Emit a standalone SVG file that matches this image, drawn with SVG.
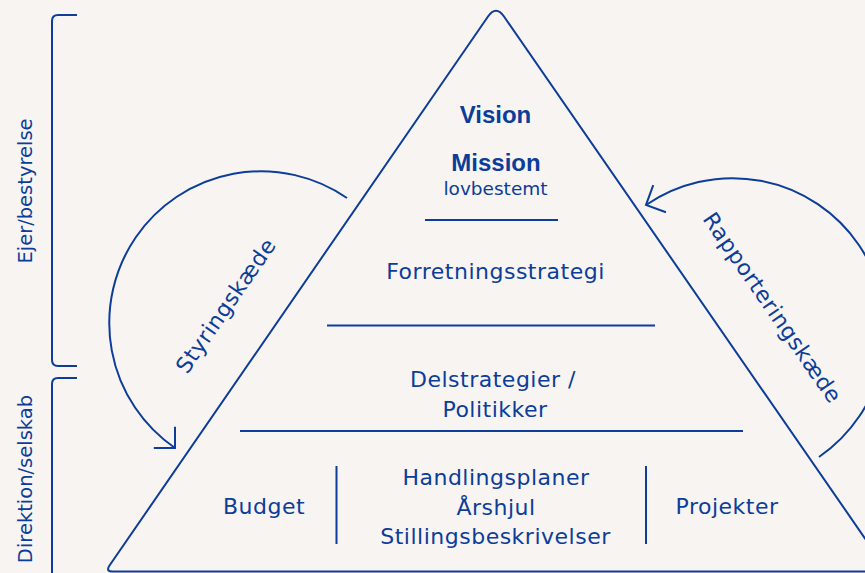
<svg xmlns="http://www.w3.org/2000/svg" width="865" height="573" viewBox="0 0 865 573">
  <style>
    .ln { fill: none; stroke: #0b3d99; stroke-width: 2; stroke-linecap: butt; stroke-linejoin: round; }
    .t { font-family: "DejaVu Sans", "Liberation Sans", sans-serif; font-size: 22px; fill: #0b3d99; text-anchor: middle; letter-spacing: 0.5px; }
    .b { font-family: "Liberation Sans", Arial, sans-serif; font-size: 24px; font-weight: bold; fill: #0b3d99; text-anchor: middle; }
    .s { font-size: 18.5px; letter-spacing: 0; }
    .side { font-size: 19.5px; letter-spacing: 0; }
  </style>
  <defs>
    <marker id="arrL" markerUnits="userSpaceOnUse" orient="45" markerWidth="32" markerHeight="32" refX="0" refY="0" overflow="visible">
      <path d="M-15,-15 L0,0 L-15,15" fill="none" stroke="#0b3d99" stroke-width="2"/>
    </marker>
    <marker id="arrR" markerUnits="userSpaceOnUse" orient="155" markerWidth="32" markerHeight="32" refX="0" refY="0" overflow="visible">
      <path d="M-15,-15 L0,0 L-15,15" fill="none" stroke="#0b3d99" stroke-width="2"/>
    </marker>
  </defs>
  <rect width="865" height="573" fill="#f8f4f2"/>

  <g id="brackets">
    <path class="ln" d="M77,15 H58 Q52,15 52,21 V360 Q52,366 58,366 H77"/>
    <path class="ln" d="M77,378 H58 Q52,378 52,384 V580"/>
    <text class="t side" transform="translate(31.5,191) rotate(-90)">Ejer/bestyrelse</text>
    <text class="t side" transform="translate(31.5,479) rotate(-90)">Direktion/selskab</text>
  </g>

  <g id="pyramid">
    <path class="ln" d="M900,571.5 H112.5 Q105.5,571.5 109.5,565.5 L488,16.5 Q496,5 504,16.5 L900,589"/>
    <line class="ln" x1="425" y1="220" x2="558" y2="220"/>
    <line class="ln" x1="327" y1="325.5" x2="655" y2="325.5"/>
    <line class="ln" x1="240" y1="431" x2="743" y2="431"/>
    <line class="ln" x1="336.5" y1="466" x2="336.5" y2="544"/>
    <line class="ln" x1="646" y1="466" x2="646" y2="544"/>
  </g>

  <g id="vision">
    <text class="b" x="495.5" y="123">Vision</text>
  </g>
  <g id="mission">
    <text class="b" x="496" y="171">Mission</text>
    <text class="t s" x="495.5" y="195">lovbestemt</text>
  </g>
  <g id="forretningsstrategi">
    <text class="t" x="495.5" y="278.5">Forretningsstrategi</text>
  </g>
  <g id="delstrategier">
    <text class="t" x="493" y="387">Delstrategier /</text>
    <text class="t" x="495" y="417">Politikker</text>
  </g>
  <g id="budget">
    <text class="t" x="264" y="513.5">Budget</text>
  </g>
  <g id="handlingsplaner">
    <text class="t" x="496" y="485">Handlingsplaner</text>
    <text class="t" x="496" y="515">Årshjul</text>
    <text class="t" x="495.5" y="543.5">Stillingsbeskrivelser</text>
  </g>
  <g id="projekter">
    <text class="t" x="727" y="513.5">Projekter</text>
  </g>

  <g id="connectors">
    <path class="ln" d="M347,198 A140,140 0 0 0 175,448" marker-end="url(#arrL)"/>
    <path class="ln" d="M819,457 A140,140 0 0 0 646,205" marker-end="url(#arrR)"/>
  </g>
  <g id="styringskaede">
    <text class="t" transform="translate(232,310) rotate(-55.4)">Styringskæde</text>
  </g>
  <g id="rapporteringskaede">
    <text class="t" transform="translate(766,312) rotate(55.4)">Rapporteringskæde</text>
  </g>
</svg>
